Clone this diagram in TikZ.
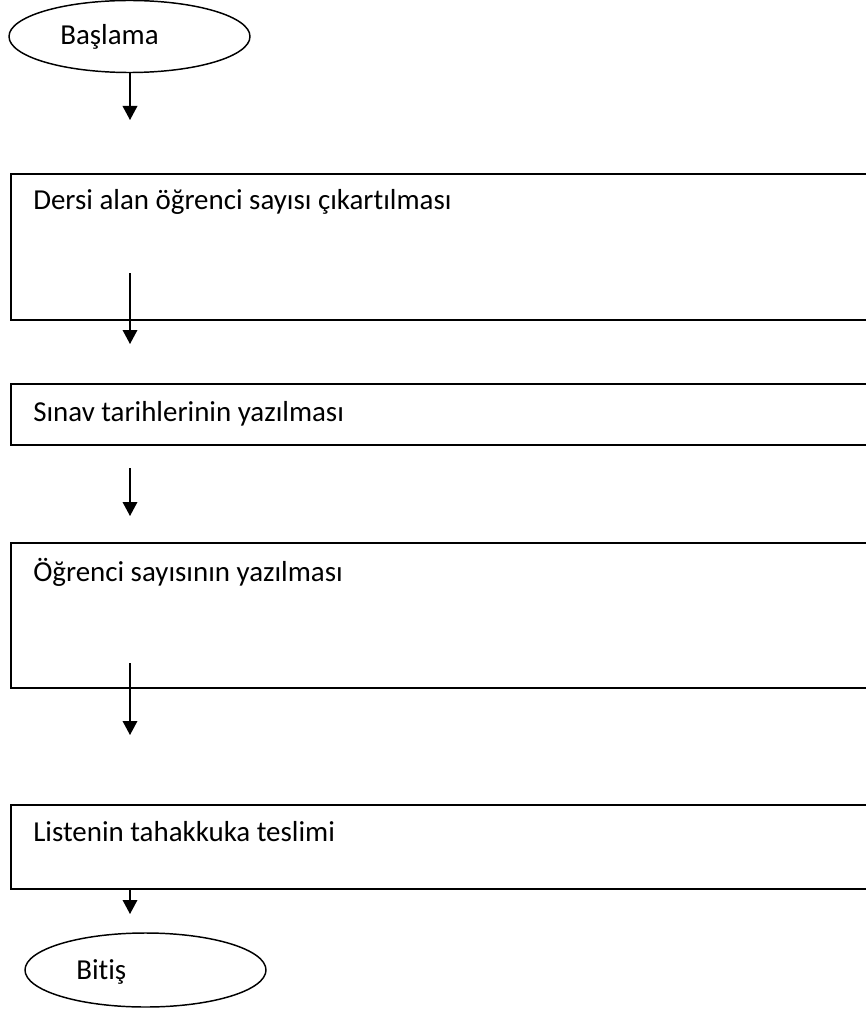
\documentclass[tikz,border=0pt]{standalone}
\usepackage{fontspec}
\setmainfont{Carlito}[Ligatures=NoCommon]
\usetikzlibrary{arrows.meta,shapes.geometric}
\begin{document}
\begin{tikzpicture}[x=0.75pt,y=-0.75pt,
  terminal/.style={draw=black,line width=1.1pt,ellipse,inner sep=0pt},
  stepbox/.style={draw=black,line width=1.4pt,rectangle,inner sep=0pt,anchor=north west},
  caption/.style={anchor=base west,inner sep=0pt,font=\fontsize{21.7}{26}\selectfont},
  flow/.style={line width=1pt,-{Triangle[width=11pt,length=10.5pt]}}]
\useasboundingbox (0,0) rectangle (866,1009);
\clip (0,0) rectangle (866,1009);

% start / end terminals
\node[terminal,minimum width=241*0.75pt,minimum height=72*0.75pt] (start) at (129.5,36.5) {};
\node[caption] (startText) at (60,45) {Başlama};

\node[terminal,minimum width=241*0.75pt,minimum height=74*0.75pt] (finish) at (145.5,970) {};
\node[caption] (finishText) at (76,979) {Bitiş};

% process boxes (running past the right edge)
\node[stepbox,minimum width=880*0.75pt,minimum height=146*0.75pt] (b1) at (10,173) {};
\node[caption] (t1) at (33,210) {Dersi alan öğrenci sayısı çıkartılması};

\node[stepbox,minimum width=880*0.75pt,minimum height=61*0.75pt] (b2) at (10,383) {};
\node[caption] (t2) at (33,421) {Sınav tarihlerinin yazılması};

\node[stepbox,minimum width=880*0.75pt,minimum height=145*0.75pt] (b3) at (10,542) {};
\node[caption] (t3) at (33,581) {Öğrenci sayısının yazılması};

\node[stepbox,minimum width=880*0.75pt,minimum height=84*0.75pt] (b4) at (10,804) {};
\node[caption] (t4) at (33,841) {Listenin tahakkuka teslimi};

% arrow end points
\coordinate (a1s) at (130,73);  \coordinate (a1e) at (130,120);
\coordinate (a2s) at (130,273); \coordinate (a2e) at (130,344);
\coordinate (a3s) at (130,468); \coordinate (a3e) at (130,516);
\coordinate (a4s) at (130,663); \coordinate (a4e) at (130,735);
\coordinate (a5s) at (130,888); \coordinate (a5e) at (130,914);

\draw[flow] (a1s) -- (a1e);
\draw[flow] (a2s) -- (a2e);
\draw[flow] (a3s) -- (a3e);
\draw[flow] (a4s) -- (a4e);
\draw[flow] (a5s) -- (a5e);
\end{tikzpicture}
\end{document}
